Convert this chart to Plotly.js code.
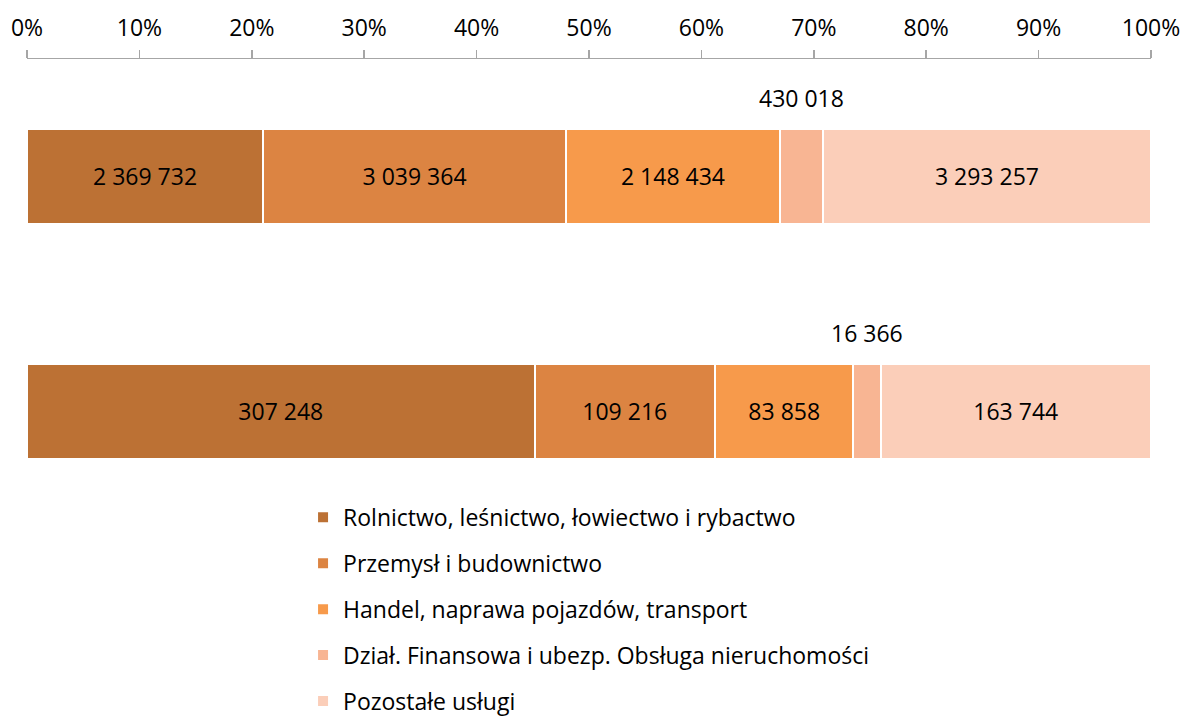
<!DOCTYPE html>
<html>
<head>
<meta charset="utf-8">
<script src="https://cdn.plot.ly/plotly-3.0.1.min.js"></script>
<style>html,body{margin:0;padding:0;background:#fff;}#chart{width:1186px;height:719px;}</style>
</head>
<body>
<div id="chart"></div>
<script>
// Data
var rows = ['A', 'B'];
var seriesNames = [
  'Rolnictwo, leśnictwo, łowiectwo i rybactwo',
  'Przemysł i budownictwo',
  'Handel, naprawa pojazdów, transport',
  'Dział. Finansowa i ubezp. Obsługa nieruchomości',
  'Pozostałe usługi'
];
var rolnictwo = [2369732, 307248];
var przemysl = [3039364, 109216];
var handel = [2148434, 83858];
var finanse = [430018, 16366];
var pozostale = [3293257, 163744];
var tickVals = [0, 10, 20, 30, 40, 50, 60, 70, 80, 90, 100];
var tickText = ['0%', '10%', '20%', '30%', '40%', '50%', '60%', '70%', '80%', '90%', '100%'];

var colors = ['#BC7134', '#DC8442', '#F79A4B', '#F8B593', '#FBCEB9'];
var series = [rolnictwo, przemysl, handel, finanse, pozostale];
var FONT = '"Open Sans", sans-serif';
var FS = 23;

function fmt(v) { return String(v).replace(/\B(?=(\d{3})+(?!\d))/g, ' '); }

var traces = series.map(function (vals, i) {
  return {
    type: 'bar',
    orientation: 'h',
    y: rows,
    x: vals,
    name: seriesNames[i],
    legendgroup: 'g' + i,
    marker: { color: colors[i], line: { color: '#ffffff', width: 2 } },
    text: vals.map(fmt),
    textposition: i === 3 ? 'none' : 'inside',
    insidetextanchor: 'middle',
    textfont: { family: FONT, size: FS, color: '#000' },
    constraintext: 'none',
    hoverinfo: 'name+text'
  };
});

// annotations for the small segment, placed above the bar at its midpoint
var annotations = rows.map(function (r, j) {
  var total = 0, before = 0;
  series.forEach(function (s, i) { total += s[j]; if (i < 3) before += s[j]; });
  var mid = (before + finanse[j] / 2) / total * 100;
  return {
    x: mid, y: r, xref: 'x', yref: 'y',
    text: fmt(finanse[j]), showarrow: false, yshift: 78,
    font: { family: FONT, size: FS, color: '#000' }
  };
});

var layout = {
  width: 1186, height: 719,
  margin: { l: 27, r: 35, t: 58.5, b: 0, autoexpand: false },
  paper_bgcolor: '#fff', plot_bgcolor: '#fff',
  barmode: 'stack', barnorm: 'percent', bargap: 0.595,
  font: { family: FONT, size: FS, color: '#000' },
  xaxis: {
    side: 'top', range: [0, 100], tickvals: tickVals, ticktext: tickText,
    ticks: 'outside', ticklen: 8, tickcolor: '#a6a6a6', tickwidth: 1.5,
    ticklabelstandoff: 4,
    showline: true, linecolor: '#a6a6a6', linewidth: 1.5, showgrid: false, zeroline: false,
    tickfont: { family: FONT, size: FS, color: '#000' }, fixedrange: true
  },
  yaxis: {
    type: 'category', range: [2.31, -0.5], showticklabels: false, showgrid: false,
    zeroline: false, showline: false, ticks: '', fixedrange: true
  },
  showlegend: true,
  legend: {
    x: 0.2456, xanchor: 'left', y: 0.338, yanchor: 'top',
    traceorder: 'grouped', tracegroupgap: 13,
    font: { family: FONT, size: FS, color: '#000' },
    bgcolor: 'rgba(0,0,0,0)'
  },
  annotations: annotations
};

Plotly.newPlot('chart', traces, layout, { displayModeBar: false, staticPlot: true });
</script>
</body>
</html>
